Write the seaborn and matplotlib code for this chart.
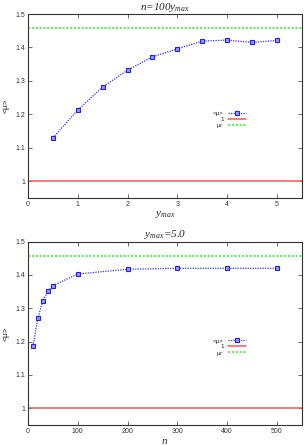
import pandas as pd
import matplotlib
matplotlib.use("Agg")
import matplotlib.pyplot as plt
import seaborn as sns

# valeurs
ymax_vals = [0.5, 1.0, 1.5, 2.0, 2.5, 3.0, 3.5, 4.0, 4.5, 5.0]
mu_top = [1.130, 1.213, 1.282, 1.332, 1.372, 1.396, 1.419, 1.422, 1.415, 1.421]

n_vals = [10, 20, 30, 40, 50, 100, 200, 300, 400, 500]
mu_bottom = [1.186, 1.271, 1.323, 1.351, 1.368, 1.403, 1.417, 1.420, 1.420, 1.420]

mu_F = 1.457
titles = [r"$n$=100$y_{max}$", r"$y_{max}$=5.0"]
xlabels = [r"$y_{max}$", r"$n$"]

sns.set_style("ticks")
plt.rcParams["font.family"] = ["Liberation Sans", "DejaVu Sans"]
plt.rcParams["mathtext.fontset"] = "custom"
plt.rcParams["mathtext.it"] = "Liberation Serif:italic"
plt.rcParams["mathtext.rm"] = "Liberation Serif:italic"

fig = plt.figure(figsize=(3.04, 4.45), dpi=100)
ax1 = fig.add_axes([0.092, 0.555, 0.901, 0.4135])
ax2 = fig.add_axes([0.092, 0.045, 0.901, 0.412])

panels = [
    (ax1, ymax_vals, mu_top, (0, 5.5), [0, 1, 2, 3, 4, 5]),
    (ax2, n_vals, mu_bottom, (0, 550), [0, 100, 200, 300, 400, 500]),
]

for i, (ax, xs, ys, xlim, xticks) in enumerate(panels):
    df = pd.DataFrame({"x": xs, "mu": ys})
    sns.lineplot(data=df, x="x", y="mu", ax=ax, color="#3333ff", linestyle=(0, (1, 1)),
                 linewidth=0.9, marker="s", markersize=3.2, markerfacecolor="#9999ff",
                 markeredgecolor="#2222ee", markeredgewidth=0.8, label="<μ>")
    ax.axhline(1.0, color="#ff5555", linewidth=1.1, label="1")
    ax.axhline(mu_F, color="#33ee33", linewidth=1.1, linestyle=(0, (1.5, 1)), label="μ$_F$")

    ax.set_xlim(*xlim)
    ax.set_ylim(0.95, 1.5)
    ax.set_xticks(xticks)
    ax.set_yticks([1.0, 1.1, 1.2, 1.3, 1.4, 1.5])
    ax.set_yticklabels(["1", "1.1", "1.2", "1.3", "1.4", "1.5"])
    ax.tick_params(direction="in", length=3, width=0.5, labelsize=5, top=True, right=True,
                   colors="#333333", pad=2)
    for s in ax.spines.values():
        s.set_linewidth(0.8)
        s.set_color("#333333")
    ax.set_title(titles[i], fontsize=8, pad=3, family="Liberation Serif", style="italic")
    ax.set_xlabel(xlabels[i], fontsize=8, labelpad=1)
    ax.set_ylabel("<μ>", fontsize=6, labelpad=4)

    ax.legend(loc="upper left", bbox_to_anchor=(0.665, 0.49), frameon=False, fontsize=4.5,
              markerfirst=False, handlelength=2.9, handletextpad=0.6, labelspacing=0.05,
              borderpad=0)

fig.savefig("out.png", dpi=100)
plt.close(fig)
